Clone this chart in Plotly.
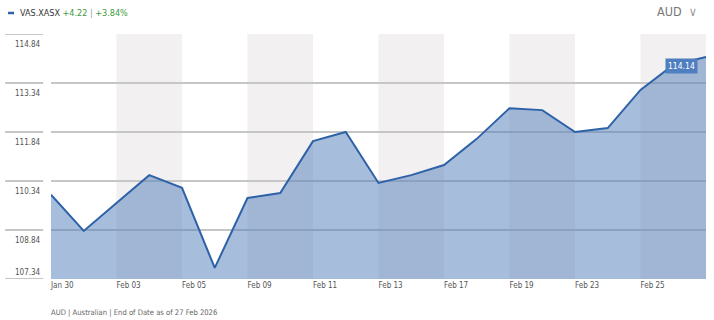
import plotly.graph_objects as go

dates = ["Jan 30", "Feb 02", "Feb 03", "Feb 04", "Feb 05", "Feb 06", "Feb 09", "Feb 10",
         "Feb 11", "Feb 12", "Feb 13", "Feb 16", "Feb 17", "Feb 18", "Feb 19", "Feb 20",
         "Feb 23", "Feb 24", "Feb 25", "Feb 26", "Feb 27"]
prices = [109.92, 108.81, 109.67, 110.52, 110.13, 107.68, 109.82, 109.97,
          111.56, 111.84, 110.28, 110.52, 110.83, 111.63, 112.57, 112.51,
          111.84, 111.96, 113.13, 113.89, 114.14]
y_ticks = [107.34, 108.84, 110.34, 111.84, 113.34, 114.84]
x_tick_labels = ["Jan 30", "Feb 03", "Feb 05", "Feb 09", "Feb 11", "Feb 13",
                 "Feb 17", "Feb 19", "Feb 23", "Feb 25"]

idx = list(range(len(dates)))
tick_idx = [dates.index(d) for d in x_tick_labels]

FONT = "DejaVu Sans Condensed, Liberation Sans Narrow, sans-serif"

fig = go.Figure()
fig.add_trace(go.Scatter(
    x=idx, y=prices, mode="lines",
    line=dict(color="#2e62a8", width=2),
    fill="tozeroy", fillcolor="rgba(80,124,185,0.5)",
    hoverinfo="skip", showlegend=False,
))

shapes = []
# alternating bands
for k in range(1, len(tick_idx), 2):
    x0 = tick_idx[k]
    x1 = tick_idx[k + 1] if k + 1 < len(tick_idx) else idx[-1]
    shapes.append(dict(type="rect", xref="x", yref="paper", x0=x0, x1=x1, y0=0, y1=1,
                       fillcolor="#f2f0f1", line=dict(width=0), layer="below"))
# left grid segments in label area
for v in y_ticks:
    shapes.append(dict(type="line", xref="paper", yref="y", x0=-0.070, x1=-0.012, y0=v, y1=v,
                       line=dict(color="#c6c6c6", width=2)))
# legend dash
shapes.append(dict(type="line", xref="paper", yref="paper", x0=-0.0656, x1=-0.0565,
                   y0=1.0857, y1=1.0857, line=dict(color="#2e62a8", width=2.5)))

annotations = [
    dict(xref="paper", yref="paper", x=-0.050, y=1.0857, xanchor="left", yanchor="middle",
         text="VAS.XASX <span style='color:#3c9a3c'>+4.22</span> <span style='color:#999'>|</span> <span style='color:#3c9a3c'>+3.84%</span>",
         showarrow=False, font=dict(family=FONT, size=9, color="#333")),
    dict(xref="paper", yref="paper", x=0.99, y=1.09, xanchor="right", yanchor="middle",
         text="AUD  <span style='color:#999'>∨</span>", showarrow=False,
         font=dict(family=FONT, size=12.5, color="#777")),
    dict(xref="paper", yref="paper", x=-0.003, y=-0.135, xanchor="left", yanchor="middle",
         text="AUD | Australian | End of Date as of 27 Feb 2026", showarrow=False,
         font=dict(family=FONT, size=7.6, color="#666")),
    dict(xref="x", yref="y", x=idx[-1], y=prices[-1], xanchor="right", yanchor="top",
         text=f"{prices[-1]:.2f}", showarrow=False, xshift=-8, yshift=-1,
         bgcolor="#4f7fc0", borderpad=2,
         font=dict(family=FONT, size=8.5, color="white")),
]
# y tick labels placed below their grid line (last one above the bottom line)
for v in y_ticks:
    bottom = v == y_ticks[0]
    annotations.append(dict(
        xref="paper", yref="y", x=-0.012, y=v, xanchor="right",
        yanchor="bottom" if bottom else "top", yshift=0 if bottom else -4,
        text=f"{v:.2f}", showarrow=False,
        font=dict(family=FONT, size=8, color="#555")))

fig.update_layout(
    width=714, height=320,
    margin=dict(l=51, r=8, t=34, b=41),
    paper_bgcolor="white", plot_bgcolor="white",
    shapes=shapes, annotations=annotations,
    xaxis=dict(range=[0, idx[-1]], tickvals=tick_idx, ticktext=x_tick_labels,
               ticklabelposition="outside right", showgrid=False, zeroline=False,
               showline=False, ticks="", tickfont=dict(family=FONT, size=8, color="#555")),
    yaxis=dict(range=[y_ticks[0], y_ticks[-1]], tickvals=y_ticks,
               showticklabels=False, showgrid=True, gridcolor="#c6c6c6",
               gridwidth=2, zeroline=False, showline=False, ticks=""),
)
fig.write_html("out.html")
